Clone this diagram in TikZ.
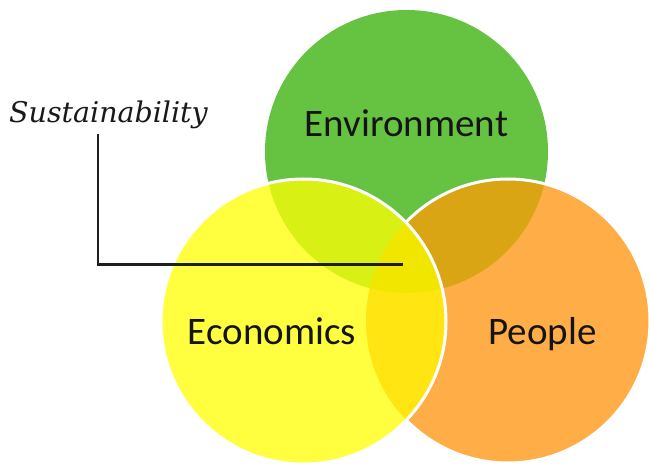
\documentclass[tikz,border=0pt]{standalone}
\usepackage{fontspec}
\setmainfont{Carlito}
\newfontfamily\leadfont{DejaVu Serif}
\definecolor{envgreen}{RGB}{102,195,66}
\definecolor{ecoyellow}{RGB}{255,255,64}
\definecolor{pplorange}{RGB}{255,173,70}
\definecolor{envppl}{RGB}{217,165,20}
\definecolor{enveco}{RGB}{217,240,20}
\definecolor{ecoppl}{RGB}{255,230,18}
\definecolor{allthree}{RGB}{240,230,0}
\definecolor{inkdark}{RGB}{30,30,30}
\def\envcirc{(406.5,151.5) circle [radius=141.5]}
\def\ecocirc{(303.5,321.5) circle [radius=142.5]}
\def\pplcirc{(508,321) circle [radius=142]}
\begin{document}
\begin{tikzpicture}[x=1pt,y=-1pt,
  rim/.style={draw=white, line width=3pt},
  lbl/.style={font=\fontsize{39}{44}\selectfont, text=black!92, inner sep=0pt, anchor=base},
  leader/.style={draw=inkdark, line width=2.6pt}]
\useasboundingbox (0,0) rectangle (651,465);
\fill[white] (0,0) rectangle (651,465);

% Environment circle
\fill[envgreen] \envcirc;

% People circle, with its overlap on Environment
\fill[pplorange] \pplcirc;
\begin{scope}
  \clip \pplcirc;
  \fill[envppl] \envcirc;
\end{scope}
\path[rim] \pplcirc;

% Economics circle on top, with all its overlaps
\fill[ecoyellow] \ecocirc;
\begin{scope}
  \clip \ecocirc;
  \fill[enveco] \envcirc;
  \fill[ecoppl] \pplcirc;
  \clip \pplcirc;
  \fill[allthree] \envcirc;
\end{scope}
\path[rim] \ecocirc;

% Labels
\node[lbl] (env) at (406.5,136.5) {Environment};
\node[lbl] (eco) at (272,344) {Economics};
\node[lbl] (ppl) at (542.5,344) {People};
\node[font=\leadfont\itshape\fontsize{28.5}{32}\selectfont, text=black!90, inner sep=0pt, anchor=base west] (sus) at (9,122.5) {Sustainability};

% Leader from the label into the common region
\coordinate (drop) at (98,134);
\coordinate (tip) at (403,264.5);
\draw[leader] (drop) -- (drop |- tip) -- (tip);
\end{tikzpicture}
\end{document}
